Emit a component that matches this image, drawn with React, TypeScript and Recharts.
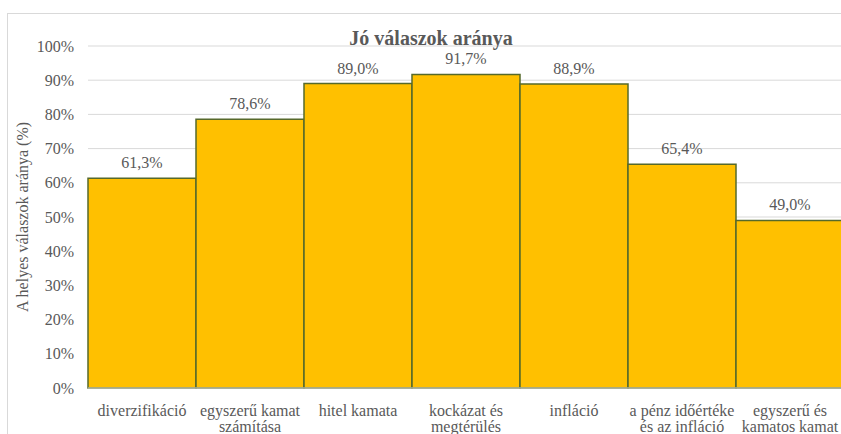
import React from 'react';
import { BarChart, Bar, XAxis, YAxis, CartesianGrid, LabelList } from 'recharts';

// tick labels (a "\n" marks the line break under the bar)
const categories = [
  'diverzifikáció',
  'egyszerű kamat\nszámítása',
  'hitel kamata',
  'kockázat és\nmegtérülés',
  'infláció',
  'a pénz időértéke\nés az infláció',
  'egyszerű és\nkamatos kamat',
];
const correctShare = [0.613, 0.786, 0.89, 0.917, 0.889, 0.654, 0.49];
const yTicks = [0, 0.1, 0.2, 0.3, 0.4, 0.5, 0.6, 0.7, 0.8, 0.9, 1];

const data = categories.map((name, i) => ({ name, value: correctShare[i] }));

const FONT = "'Liberation Serif', Tinos, 'Times New Roman', Times, 'DejaVu Serif', serif";
const GREY = '#595959';

const pct = (v: number) => `${Math.round(v * 100)}%`;
const pctLabel = (v: any) => `${(Number(v) * 100).toFixed(1).replace('.', ',')}%`;

const CategoryTick = (props: any) => {
  const { x, y, payload } = props;
  const lines = String(payload.value).split('\n');
  return (
    <text x={x} y={y} textAnchor="middle" fill={GREY} fontSize={16} style={{ fontFamily: FONT }}>
      {lines.map((line, i) => (
        <tspan key={i} x={x} dy={i === 0 ? 28 : 16}>
          {line}
        </tspan>
      ))}
    </text>
  );
};

const YLabel = (props: any) => {
  const { viewBox } = props;
  const cx = 14.5;
  const cy = viewBox.y + viewBox.height / 2;
  return (
    <text
      x={cx}
      y={cy}
      transform={`rotate(-90 ${cx} ${cy})`}
      textAnchor="middle"
      dominantBaseline="central"
      fill={GREY}
      fontSize={16}
      style={{ fontFamily: FONT }}
    >
      A helyes válaszok aránya (%)
    </text>
  );
};

export default function App() {
  return (
    <div
      style={{
        position: 'absolute',
        left: 0,
        top: 0,
        width: 841,
        height: 434,
        overflow: 'hidden',
        background: '#fff',
        fontFamily: FONT,
      }}
    >
      <div
        style={{
          position: 'absolute',
          left: 7,
          top: 13,
          width: 900,
          height: 500,
          borderLeft: '1px solid #d9d9d9',
          borderTop: '1px solid #d9d9d9',
        }}
      >
        <BarChart
          width={860}
          height={420}
          data={data}
          margin={{ top: 32, right: 24, left: 0, bottom: 0 }}
          barCategoryGap={0}
          style={{ fontFamily: FONT }}
        >
          <CartesianGrid vertical={false} stroke="#d9d9d9" />
          <XAxis
            dataKey="name"
            height={46}
            interval={0}
            tickSize={0}
            tickMargin={0}
            tickLine={false}
            axisLine={{ stroke: '#d9d9d9' }}
            tick={<CategoryTick />}
          />
          <YAxis
            width={80}
            domain={[0, 1]}
            ticks={yTicks}
            tickFormatter={pct}
            axisLine={false}
            tickLine={false}
            tickSize={0}
            tickMargin={14}
            tick={{ fill: GREY, fontSize: 16, style: { fontFamily: FONT } }}
            label={<YLabel />}
          />
          <Bar dataKey="value" fill="#ffc000" stroke="#56692b" strokeWidth={1.5} isAnimationActive={false}>
            <LabelList
              dataKey="value"
              position="top"
              offset={10}
              formatter={pctLabel}
              fill={GREY}
              fontSize={16}
              style={{ fontFamily: FONT }}
            />
          </Bar>
        </BarChart>
      </div>
      <div
        style={{
          position: 'absolute',
          left: 0,
          top: 27,
          width: 862,
          textAlign: 'center',
          fontFamily: FONT,
          fontWeight: 'bold',
          fontSize: 20,
          lineHeight: '22px',
          color: GREY,
        }}
      >
        Jó válaszok aránya
      </div>
    </div>
  );
}
